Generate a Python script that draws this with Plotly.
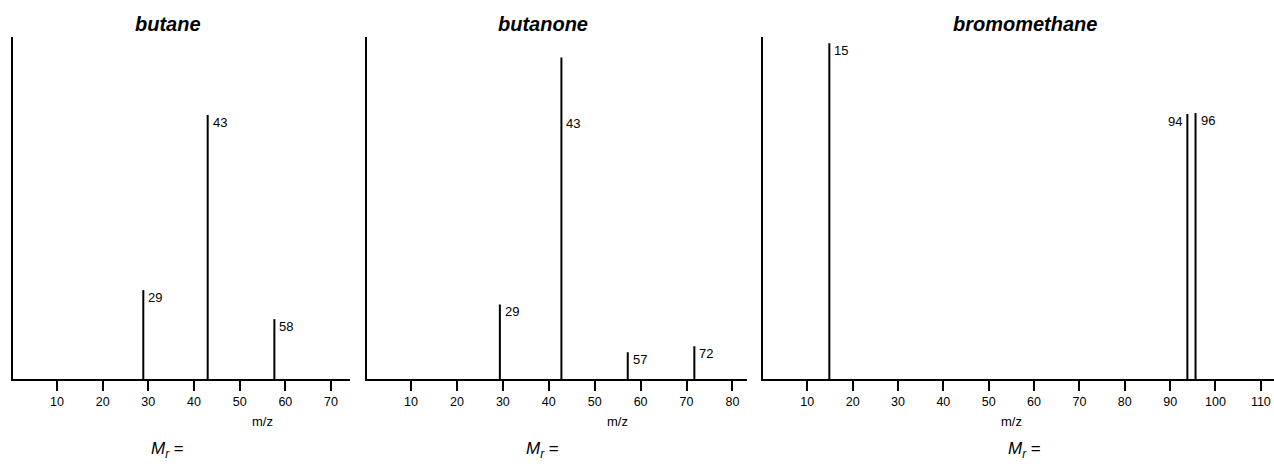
import plotly.graph_objects as go

# ---- data ----
compounds = ["butane", "butanone", "bromomethane"]

butane_mz = [28.9, 43.0, 57.6]
butane_int = [26.0, 77.2, 17.5]
butane_labels = ["29", "43", "58"]

butanone_mz = [29.35, 42.75, 57.2, 71.7]
butanone_int = [21.8, 94.0, 7.8, 9.6]
butanone_labels = ["29", "43", "57", "72"]

bromo_mz = [14.86, 93.8, 95.6]
bromo_int = [98.2, 77.5, 77.8]
bromo_labels = ["15", "94", "96"]

ticks_butane = [10, 20, 30, 40, 50, 60, 70]
ticks_butanone = [10, 20, 30, 40, 50, 60, 70, 80]
ticks_bromo = [10, 20, 30, 40, 50, 60, 70, 80, 90, 100, 110]

# ---- layout constants ----
W, H = 1274, 470
FONT = "Liberation Sans, Arial, Helvetica, sans-serif"
y_bot_px, y_top_px = 379, 37
ydom = [(H - y_bot_px) / H, (H - y_top_px) / H]

panels = [
    dict(mz=butane_mz, inten=butane_int, labels=butane_labels, ticks=ticks_butane,
         dom=(13, 350), rng=(0.37, 74.16), center=167.5,
         label_side=["r", "r", "r"], label_y={}),
    dict(mz=butanone_mz, inten=butanone_int, labels=butanone_labels, ticks=ticks_butanone,
         dom=(366.7, 746.7), rng=(0.35, 83.1), center=542.5,
         label_side=["r", "r", "r", "r"], label_y={1: 77.0}),
    dict(mz=bromo_mz, inten=bromo_int, labels=bromo_labels, ticks=ticks_bromo,
         dom=(762.7, 1274), rng=(0.17, 112.9), center=1024.5,
         label_side=["r", "l", "r"], label_y={}),
]

fig = go.Figure()
annotations = []

for i, (name, p) in enumerate(zip(compounds, panels), start=1):
    xa = "x" if i == 1 else f"x{i}"
    ya = "y" if i == 1 else f"y{i}"
    xs, ys = [], []
    for m, v in zip(p["mz"], p["inten"]):
        xs += [m, m, None]
        ys += [0, v, None]
    fig.add_trace(go.Scatter(x=xs, y=ys, mode="lines", xaxis=xa, yaxis=ya,
                             line=dict(color="black", width=2), showlegend=False,
                             hoverinfo="skip"))
    for j, (m, v, lab) in enumerate(zip(p["mz"], p["inten"], p["labels"])):
        side = p["label_side"][j]
        annotations.append(dict(
            x=m, y=p["label_y"].get(j, v), xref=xa, yref=ya, text=lab,
            showarrow=False, xanchor="left" if side == "r" else "right",
            yanchor="top", xshift=3 if side == "r" else -3, yshift=2,
            font=dict(family=FONT, size=13, color="black")))
    # m/z axis title
    annotations.append(dict(x=55, y=0, xref=xa, yref=ya, text="m/z", showarrow=False,
                            xanchor="center", yanchor="middle", yshift=-(421 - y_bot_px),
                            font=dict(family=FONT, size=13, color="black")))
    # title
    annotations.append(dict(x=p["center"] / W, y=1 - 24 / H, xref="paper", yref="paper",
                            text=f"<b><i>{name}</i></b>", showarrow=False,
                            xanchor="center", yanchor="middle",
                            font=dict(family=FONT, size=20, color="black")))
    # Mr =
    annotations.append(dict(x=p["center"] / W, y=1 - 450 / H, xref="paper", yref="paper",
                            text="<i>M<sub>r</sub></i> =", showarrow=False,
                            xanchor="center", yanchor="middle",
                            font=dict(family=FONT, size=17, color="black")))

    d0, d1 = p["dom"]
    axis_x = dict(domain=[d0 / W, min(d1 / W, 1.0)], range=list(p["rng"]),
                  showline=True, linecolor="black", linewidth=2, showgrid=False,
                  zeroline=False, ticks="outside", ticklen=10, tickwidth=2,
                  tickcolor="black", tickvals=p["ticks"],
                  tickfont=dict(family=FONT, size=12.5, color="black"),
                  anchor=ya, fixedrange=True)
    axis_y = dict(domain=ydom, range=[0, 100], showline=True, linecolor="black",
                  linewidth=2, showgrid=False, zeroline=False, showticklabels=False,
                  ticks="", anchor=xa, fixedrange=True)
    fig.update_layout(**{("xaxis" if i == 1 else f"xaxis{i}"): axis_x,
                         ("yaxis" if i == 1 else f"yaxis{i}"): axis_y})

fig.update_layout(width=W, height=H, margin=dict(l=0, r=0, t=0, b=0),
                  paper_bgcolor="white", plot_bgcolor="white",
                  annotations=annotations, font=dict(family=FONT))

fig.write_html("out.html", config={"displayModeBar": False},
               post_script="document.body.style.margin='0';document.body.style.overflow='hidden';")
